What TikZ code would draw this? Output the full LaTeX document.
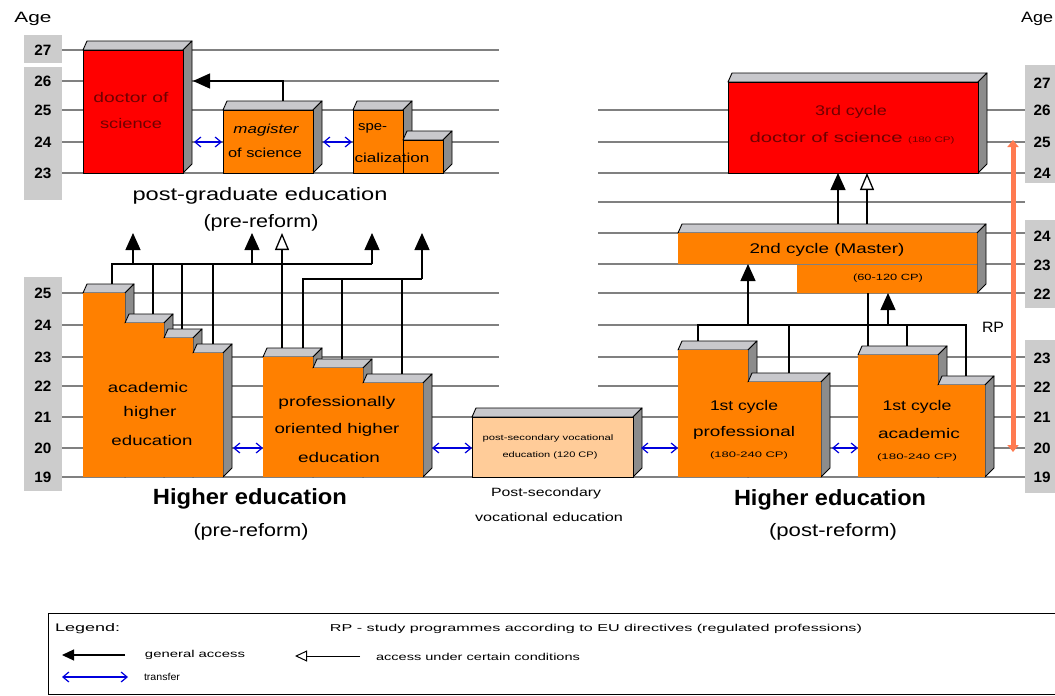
\documentclass[tikz,border=0pt]{standalone}
\usepackage{fontspec}
\setmainfont{Liberation Sans}
\usetikzlibrary{arrows.meta}
\definecolor{orangeC}{HTML}{FF8000}
\definecolor{redC}{HTML}{FF0000}
\definecolor{lightC}{HTML}{FFCC99}
\definecolor{topC}{HTML}{C8C8CC}
\definecolor{sideC}{HTML}{8C8C8C}
\definecolor{gridC}{HTML}{808080}
\definecolor{labC}{HTML}{CCCCCC}
\definecolor{rpC}{HTML}{FF7A50}
\definecolor{blueC}{HTML}{0000DD}
\definecolor{dredC}{HTML}{700000}
\newcommand\fs[1]{\fontsize{#1}{#1}\selectfont}
\newcommand\wb[2]{\resizebox{#1pt}{\height}{#2}}
\newcommand\threedbox[5]{%
  \filldraw[topf] (#1,#2) -- ({#1+4},{#2-9}) -- ({#3+9},{#2-9}) -- (#3,#2) -- cycle;
  \filldraw[sidef] (#3,#2) -- ({#3+9},{#2-9}) -- ({#3+9},{#4-9}) -- (#3,#4) -- cycle;
  \path[#5] (#1,#2) rectangle (#3,#4);}
\begin{document}
\begin{tikzpicture}[x=1pt,y=-1pt,
  grid/.style={draw=gridC, line width=1.3pt},
  conn/.style={draw=black, line width=1.3pt},
  acc/.style={conn, -{Triangle[length=17pt,width=15pt]}},
  cond/.style={conn, -{Triangle[open,length=17pt,width=14pt,fill=white]}},
  xfer/.style={draw=blueC, line width=1.2pt, {Straight Barb[length=6pt,width=10pt]}-{Straight Barb[length=6pt,width=10pt]}},
  rpline/.style={draw=rpC, line width=5pt, {Triangle[length=7pt,width=11pt]}-{Triangle[length=7pt,width=11pt]}},
  txt/.style={inner sep=0pt, anchor=center},
  num/.style={txt, font=\bfseries\fs{15}},
  topf/.style={fill=topC, draw=black, line width=0.9pt, line join=round},
  sidef/.style={fill=sideC, draw=black, line width=0.9pt, line join=round},
  ofront/.style={fill=orangeC},
  ofronto/.style={fill=orangeC, draw=black, line width=0.9pt},
  rfront/.style={fill=redC, draw=black, line width=0.9pt},
  pfront/.style={fill=lightC, draw=black, line width=0.9pt},
]
\fill[white] (0,0) rectangle (1055,696);
\useasboundingbox (0,0) rectangle (1055,696);

% grey age label columns
\fill[labC] (24,35) rectangle (62,63);
\fill[labC] (24,67) rectangle (62,200);
\fill[labC] (24,277) rectangle (62,491);
\fill[labC] (1025,65) rectangle (1060,183);
\fill[labC] (1025,220) rectangle (1060,308);
\fill[labC] (1025,340) rectangle (1060,493);

% grid lines
\foreach \yy in {50,81,110,142,173,293,325,357,386} \draw[grid] (62,\yy) -- (499,\yy);
\foreach \yy in {110,142,173,202,233,264,293,357,386} \draw[grid] (598,\yy) -- (1025,\yy);
\draw[grid] (598,325) -- (960,325);
\foreach \yy in {417,448,477} \draw[grid] (62,\yy) -- (1025,\yy);

% post-graduate (pre-reform)
\threedbox{83}{50}{183}{173}{rfront}
\threedbox{223}{110}{313}{173}{ofronto}
\threedbox{353}{110}{403}{173}{ofronto}
\threedbox{403}{140}{443}{173}{ofronto}
% academic higher education (pre-reform)
\threedbox{83}{293}{125}{477}{ofront}
\threedbox{125}{323}{164}{477}{ofront}
\threedbox{164}{338}{193}{477}{ofront}
\threedbox{193}{353}{223}{477}{ofront}
% professionally oriented
\threedbox{263}{357}{313}{477}{ofront}
\threedbox{313}{368}{363}{477}{ofront}
\threedbox{363}{383}{423}{477}{ofront}
% post-secondary
\threedbox{472}{417}{633}{477}{pfront}
% 1st cycle professional
\threedbox{678}{350}{748}{477}{ofront}
\threedbox{748}{382}{821}{477}{ofront}
% 1st cycle academic
\threedbox{858}{355}{938}{477}{ofront}
\threedbox{938}{385}{985}{477}{ofront}
% 3rd cycle
\threedbox{728}{82}{978}{173}{rfront}
% 2nd cycle
\filldraw[topf] (678,233) -- (682,224) -- (986,224) -- (977,233) -- cycle;
\filldraw[sidef] (977,233) -- (986,224) -- (986,284) -- (977,293) -- cycle;
\fill[orangeC] (678,233) -- (977,233) -- (977,293) -- (797,293) -- (797,264) -- (678,264) -- cycle;
\draw[grid, line width=1pt] (678,264) -- (977,264);

% named connector points
\coordinate (magTop) at (283,101);
\coordinate (docSide) at (193,81);
\draw[acc] (magTop) |- (docSide);

% pre-reform connectors
\coordinate (hA) at (112,264);
\coordinate (hB) at (372,264);
\draw[conn] (112,284) -- (hA) -- (hB);
\draw[conn] (153,314) -- (153,264);
\draw[conn] (182,329) -- (182,264);
\draw[conn] (213,344) -- (213,264);
\coordinate (hC) at (303,279);
\coordinate (hD) at (422,279);
\draw[conn] (303,348) -- (hC) -- (hD);
\draw[conn] (342,359) -- (342,279);
\draw[conn] (402,374) -- (402,279);
\draw[cond] (282,348) -- (282,233);
\draw[acc] (133,264) -- (133,233);
\draw[acc] (252,264) -- (252,233);
\draw[acc] (hB) -- (372,233);
\draw[acc] (hD) -- (422,233);

% post-reform connectors
\coordinate (hE) at (698,325);
\coordinate (hF) at (966,325);
\draw[conn] (698,341) -- (hE) -- (hF) -- (966,376);
\draw[conn] (789,373) -- (789,325);
\draw[conn] (868,293) -- (868,346);
\draw[conn] (907,325) -- (907,346);
\draw[acc] (748,325) -- (748,264);
\draw[acc] (888,325) -- (888,293);
\draw[acc] (838,224) -- (838,173);
\draw[cond] (867,224) -- (867,173);

% transfers
\draw[xfer] (194,142) -- (222,142);
\draw[xfer] (323,142) -- (352,142);
\draw[xfer] (233,448) -- (263,448);
\draw[xfer] (432,448) -- (472,448);
\draw[xfer] (641,448) -- (678,448);
\draw[xfer] (832,448) -- (858,448);

% RP
\coordinate (rpB) at (1013,452);
\coordinate (rpT) at (1013,140);
\draw[rpline] (rpB) -- (rpT);
\node[txt, font=\fs{15}] (rp) at (993,327) {\wb{22}{RP}};

% age labels
\node[txt, font=\fs{15}] (ageL) at (33,19) {\wb{37}{Age}};
\node[txt, font=\fs{15}, anchor=west] (ageR) at (1021,19) {\wb{32}{Age}};
\node[num] (l27) at (43,50) {\wb{17}{27}};
\node[num] (l26) at (43,81) {\wb{17}{26}};
\node[num] (l25) at (43,110) {\wb{17}{25}};
\node[num] (l24) at (43,142) {\wb{17}{24}};
\node[num] (l23) at (43,173) {\wb{17}{23}};
\node[num] (m25) at (43,293) {\wb{17}{25}};
\node[num] (m24) at (43,325) {\wb{17}{24}};
\node[num] (m23) at (43,357) {\wb{17}{23}};
\node[num] (m22) at (43,386) {\wb{17}{22}};
\node[num] (m21) at (43,417) {\wb{17}{21}};
\node[num] (m20) at (43,448) {\wb{17}{20}};
\node[num] (m19) at (43,477) {\wb{17}{19}};
\node[num] (r27) at (1042,83) {\wb{17}{27}};
\node[num] (r26) at (1042,110) {\wb{17}{26}};
\node[num] (r25) at (1042,142) {\wb{17}{25}};
\node[num] (r24) at (1042,173) {\wb{17}{24}};
\node[num] (s24) at (1042,236) {\wb{17}{24}};
\node[num] (s23) at (1042,265) {\wb{17}{23}};
\node[num] (s22) at (1042,294) {\wb{17}{22}};
\node[num] (t23) at (1042,358) {\wb{17}{23}};
\node[num] (t22) at (1042,387) {\wb{17}{22}};
\node[num] (t21) at (1042,417) {\wb{17}{21}};
\node[num] (t20) at (1042,448) {\wb{17}{20}};
\node[num] (t19) at (1042,477) {\wb{17}{19}};

% box texts
\node[txt, font=\fs{14}, text=dredC] (doc1) at (131,97) {\wb{75}{doctor of}};
\node[txt, font=\fs{14}, text=dredC] (doc2) at (131,123) {\wb{62}{science}};
\node[txt, font=\itshape\fs{13}] (mag1) at (266,130) {\wb{65}{magister}};
\node[txt, font=\fs{13}] (mag2) at (265,153) {\wb{74}{of science}};
\node[txt, font=\fs{13}, anchor=west] (spe1) at (358,128) {\wb{29}{spe-}};
\node[txt, font=\fs{13}] (spe2) at (392,158) {\wb{75}{cialization}};
\node[txt, font=\fs{18}] (pg1) at (260,196) {\wb{255}{post-graduate education}};
\node[txt, font=\fs{18}] (pg2) at (261,223) {\wb{115}{(pre-reform)}};

\node[txt, font=\fs{14}] (ac1) at (148,387) {\wb{80}{academic}};
\node[txt, font=\fs{14}] (ac2) at (150,413) {\wb{53}{higher}};
\node[txt, font=\fs{14}] (ac3) at (152,440) {\wb{81}{education}};
\node[txt, font=\fs{14}] (po1) at (337,403) {\wb{117}{professionally}};
\node[txt, font=\fs{14}] (po2) at (337,430) {\wb{125}{oriented higher}};
\node[txt, font=\fs{14}] (po3) at (339,457) {\wb{82}{education}};

\node[txt, font=\fs{8}] (ps1) at (548,438) {\wb{131}{post-secondary vocational}};
\node[txt, font=\fs{8}] (ps2) at (550,455) {\wb{95}{education (120 CP)}};
\node[txt, font=\fs{12}] (ps3) at (546,493) {\wb{110}{Post-secondary}};
\node[txt, font=\fs{12}] (ps4) at (549,517) {\wb{148}{vocational education}};

\node[txt, font=\fs{14}] (fp1) at (744,407) {\wb{68}{1st cycle}};
\node[txt, font=\fs{14}] (fp2) at (744,433) {\wb{102}{professional}};
\node[txt, font=\fs{8}] (fp3) at (749,455) {\wb{78}{(180-240 CP)}};
\node[txt, font=\fs{14}] (fa1) at (917,407) {\wb{69}{1st cycle}};
\node[txt, font=\fs{14}] (fa2) at (919,433) {\wb{82}{academic}};
\node[txt, font=\fs{8}] (fa3) at (917,457) {\wb{80}{(180-240 CP)}};

\node[txt, font=\fs{14}] (sc1) at (827,250) {\wb{155}{2nd cycle (Master)}};
\node[txt, font=\fs{9}] (sc2) at (888,278) {\wb{70}{(60-120 CP)}};
\node[txt, font=\fs{14}, text=dredC] (tc1) at (851,112) {\wb{72}{3rd cycle}};
\node[txt, font=\fs{14}, text=dredC] (tc2) at (852,138) {\wb{205}{doctor of science {\fs{8}(180 CP)}}};

\node[txt, font=\bfseries\fs{22}] (he1) at (250,499) {\wb{194}{Higher education}};
\node[txt, font=\fs{18}] (he2) at (251,532) {\wb{115}{(pre-reform)}};
\node[txt, font=\bfseries\fs{22}] (he3) at (830,500) {\wb{192}{Higher education}};
\node[txt, font=\fs{18}] (he4) at (833,532) {\wb{128}{(post-reform)}};

% legend
\draw[black, line width=0.8pt] (48,613) rectangle (1065,694);
\node[txt, font=\fs{11}, anchor=west] (lg) at (55,629) {\wb{65}{Legend:}};
\node[txt, font=\fs{10}] (lgrp) at (596,629) {\wb{532}{RP - study programmes according to EU directives (regulated professions)}};
\coordinate (la1) at (125,655);
\coordinate (la2) at (62,655);
\draw[conn, line width=1.2pt, -{Triangle[length=12pt,width=11pt]}] (la1) -- (la2);
\node[txt, font=\fs{10}] (lga) at (195,655) {\wb{100}{general access}};
\coordinate (lb1) at (360,656);
\coordinate (lb2) at (295,656);
\draw[conn, line width=1pt, -{Triangle[open,length=12pt,width=11pt,fill=white]}] (lb1) -- (lb2);
\node[txt, font=\fs{10}] (lgb) at (478,657) {\wb{204}{access under certain conditions}};
\coordinate (lc1) at (62,677);
\coordinate (lc2) at (128,677);
\draw[xfer] (lc1) -- (lc2);
\node[txt, font=\fs{10}] (lgc) at (162,677) {\wb{36}{transfer}};
\end{tikzpicture}
\end{document}
